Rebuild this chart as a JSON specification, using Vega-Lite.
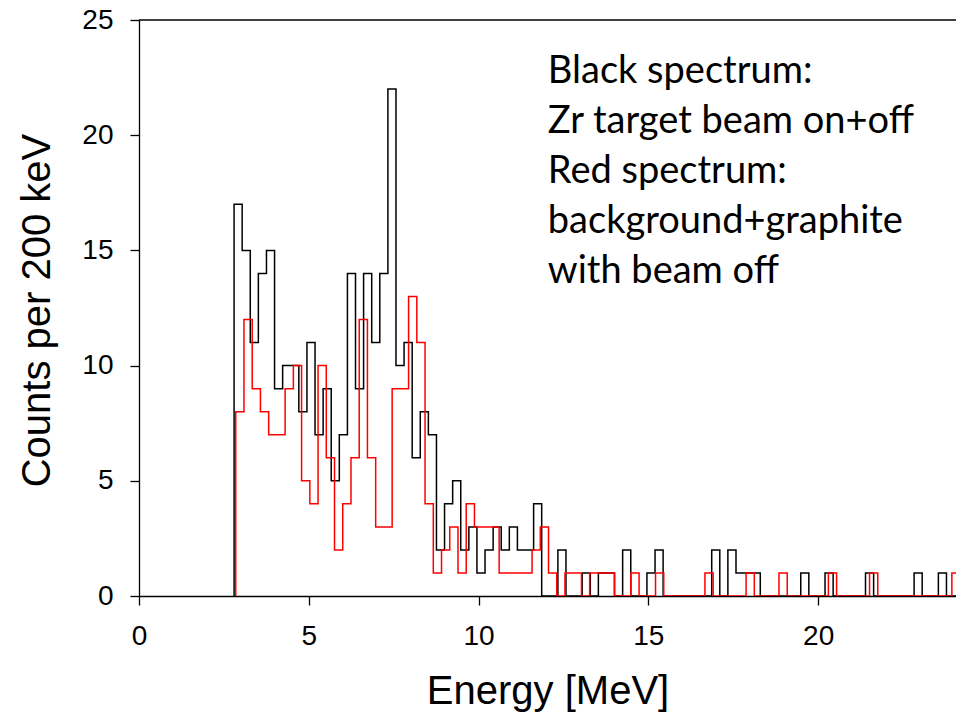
{
  "$schema": "https://vega.github.io/schema/vega-lite/v6.json",
  "width": 817,
  "height": 576,
  "autosize": {"type": "none"},
  "padding": {"left": 139, "top": 20, "right": 0, "bottom": 131},
  "background": "white",
  "config": {"view": {"stroke": null}, "font": "Liberation Sans"},
  "datasets": {
    "spectra": [
      {"s": "black", "i": -1, "e": 2.800, "c": 0},
      {"s": "black", "i": 0, "e": 2.800, "c": 17},
      {"s": "black", "i": 1, "e": 3.038, "c": 15},
      {"s": "black", "i": 2, "e": 3.277, "c": 11},
      {"s": "black", "i": 3, "e": 3.515, "c": 14},
      {"s": "black", "i": 4, "e": 3.754, "c": 15},
      {"s": "black", "i": 5, "e": 3.992, "c": 9},
      {"s": "black", "i": 6, "e": 4.230, "c": 10},
      {"s": "black", "i": 7, "e": 4.469, "c": 10},
      {"s": "black", "i": 8, "e": 4.707, "c": 8},
      {"s": "black", "i": 9, "e": 4.946, "c": 11},
      {"s": "black", "i": 10, "e": 5.184, "c": 7},
      {"s": "black", "i": 11, "e": 5.422, "c": 9},
      {"s": "black", "i": 12, "e": 5.661, "c": 5},
      {"s": "black", "i": 13, "e": 5.899, "c": 7},
      {"s": "black", "i": 14, "e": 6.138, "c": 14},
      {"s": "black", "i": 15, "e": 6.376, "c": 9},
      {"s": "black", "i": 16, "e": 6.614, "c": 14},
      {"s": "black", "i": 17, "e": 6.853, "c": 11},
      {"s": "black", "i": 18, "e": 7.091, "c": 14},
      {"s": "black", "i": 19, "e": 7.330, "c": 22},
      {"s": "black", "i": 20, "e": 7.568, "c": 10},
      {"s": "black", "i": 21, "e": 7.806, "c": 11},
      {"s": "black", "i": 22, "e": 8.045, "c": 6},
      {"s": "black", "i": 23, "e": 8.283, "c": 8},
      {"s": "black", "i": 24, "e": 8.522, "c": 7},
      {"s": "black", "i": 25, "e": 8.760, "c": 2},
      {"s": "black", "i": 26, "e": 8.998, "c": 4},
      {"s": "black", "i": 27, "e": 9.237, "c": 5},
      {"s": "black", "i": 28, "e": 9.475, "c": 2},
      {"s": "black", "i": 29, "e": 9.714, "c": 3},
      {"s": "black", "i": 30, "e": 9.952, "c": 1},
      {"s": "black", "i": 31, "e": 10.190, "c": 2},
      {"s": "black", "i": 32, "e": 10.429, "c": 3},
      {"s": "black", "i": 33, "e": 10.667, "c": 2},
      {"s": "black", "i": 34, "e": 10.906, "c": 3},
      {"s": "black", "i": 35, "e": 11.144, "c": 2},
      {"s": "black", "i": 36, "e": 11.382, "c": 2},
      {"s": "black", "i": 37, "e": 11.621, "c": 4},
      {"s": "black", "i": 38, "e": 11.859, "c": 0},
      {"s": "black", "i": 39, "e": 12.098, "c": 0},
      {"s": "black", "i": 40, "e": 12.336, "c": 2},
      {"s": "black", "i": 41, "e": 12.574, "c": 0},
      {"s": "black", "i": 42, "e": 12.813, "c": 0},
      {"s": "black", "i": 43, "e": 13.051, "c": 1},
      {"s": "black", "i": 44, "e": 13.290, "c": 0},
      {"s": "black", "i": 45, "e": 13.528, "c": 1},
      {"s": "black", "i": 46, "e": 13.766, "c": 1},
      {"s": "black", "i": 47, "e": 14.005, "c": 0},
      {"s": "black", "i": 48, "e": 14.243, "c": 2},
      {"s": "black", "i": 49, "e": 14.482, "c": 0},
      {"s": "black", "i": 50, "e": 14.720, "c": 0},
      {"s": "black", "i": 51, "e": 14.958, "c": 1},
      {"s": "black", "i": 52, "e": 15.197, "c": 2},
      {"s": "black", "i": 53, "e": 15.435, "c": 0},
      {"s": "black", "i": 54, "e": 15.674, "c": 0},
      {"s": "black", "i": 55, "e": 15.912, "c": 0},
      {"s": "black", "i": 56, "e": 16.150, "c": 0},
      {"s": "black", "i": 57, "e": 16.389, "c": 0},
      {"s": "black", "i": 58, "e": 16.627, "c": 0},
      {"s": "black", "i": 59, "e": 16.866, "c": 2},
      {"s": "black", "i": 60, "e": 17.104, "c": 0},
      {"s": "black", "i": 61, "e": 17.342, "c": 2},
      {"s": "black", "i": 62, "e": 17.581, "c": 1},
      {"s": "black", "i": 63, "e": 17.819, "c": 1},
      {"s": "black", "i": 64, "e": 18.058, "c": 1},
      {"s": "black", "i": 65, "e": 18.296, "c": 0},
      {"s": "black", "i": 66, "e": 18.534, "c": 0},
      {"s": "black", "i": 67, "e": 18.773, "c": 0},
      {"s": "black", "i": 68, "e": 19.011, "c": 0},
      {"s": "black", "i": 69, "e": 19.250, "c": 0},
      {"s": "black", "i": 70, "e": 19.488, "c": 1},
      {"s": "black", "i": 71, "e": 19.726, "c": 0},
      {"s": "black", "i": 72, "e": 19.965, "c": 0},
      {"s": "black", "i": 73, "e": 20.203, "c": 1},
      {"s": "black", "i": 74, "e": 20.442, "c": 0},
      {"s": "black", "i": 75, "e": 20.680, "c": 0},
      {"s": "black", "i": 76, "e": 20.918, "c": 0},
      {"s": "black", "i": 77, "e": 21.157, "c": 0},
      {"s": "black", "i": 78, "e": 21.395, "c": 1},
      {"s": "black", "i": 79, "e": 21.634, "c": 0},
      {"s": "black", "i": 80, "e": 21.872, "c": 0},
      {"s": "black", "i": 81, "e": 22.110, "c": 0},
      {"s": "black", "i": 82, "e": 22.349, "c": 0},
      {"s": "black", "i": 83, "e": 22.587, "c": 0},
      {"s": "black", "i": 84, "e": 22.826, "c": 1},
      {"s": "black", "i": 85, "e": 23.064, "c": 0},
      {"s": "black", "i": 86, "e": 23.302, "c": 0},
      {"s": "black", "i": 87, "e": 23.541, "c": 1},
      {"s": "black", "i": 88, "e": 23.779, "c": 0},
      {"s": "black", "i": 89, "e": 24.018, "c": 0},
      {"s": "black", "i": 90, "e": 24.256, "c": 0},
      {"s": "red", "i": -1, "e": 2.849, "c": 0},
      {"s": "red", "i": 0, "e": 2.849, "c": 8},
      {"s": "red", "i": 1, "e": 3.091, "c": 12},
      {"s": "red", "i": 2, "e": 3.334, "c": 9},
      {"s": "red", "i": 3, "e": 3.576, "c": 8},
      {"s": "red", "i": 4, "e": 3.819, "c": 7},
      {"s": "red", "i": 5, "e": 4.061, "c": 7},
      {"s": "red", "i": 6, "e": 4.303, "c": 9},
      {"s": "red", "i": 7, "e": 4.546, "c": 10},
      {"s": "red", "i": 8, "e": 4.788, "c": 5},
      {"s": "red", "i": 9, "e": 5.031, "c": 4},
      {"s": "red", "i": 10, "e": 5.273, "c": 10},
      {"s": "red", "i": 11, "e": 5.515, "c": 6},
      {"s": "red", "i": 12, "e": 5.758, "c": 2},
      {"s": "red", "i": 13, "e": 6.000, "c": 4},
      {"s": "red", "i": 14, "e": 6.243, "c": 6},
      {"s": "red", "i": 15, "e": 6.485, "c": 12},
      {"s": "red", "i": 16, "e": 6.727, "c": 6},
      {"s": "red", "i": 17, "e": 6.970, "c": 3},
      {"s": "red", "i": 18, "e": 7.212, "c": 3},
      {"s": "red", "i": 19, "e": 7.455, "c": 9},
      {"s": "red", "i": 20, "e": 7.697, "c": 9},
      {"s": "red", "i": 21, "e": 7.939, "c": 13},
      {"s": "red", "i": 22, "e": 8.182, "c": 11},
      {"s": "red", "i": 23, "e": 8.424, "c": 4},
      {"s": "red", "i": 24, "e": 8.667, "c": 1},
      {"s": "red", "i": 25, "e": 8.909, "c": 2},
      {"s": "red", "i": 26, "e": 9.151, "c": 3},
      {"s": "red", "i": 27, "e": 9.394, "c": 1},
      {"s": "red", "i": 28, "e": 9.636, "c": 4},
      {"s": "red", "i": 29, "e": 9.879, "c": 3},
      {"s": "red", "i": 30, "e": 10.121, "c": 3},
      {"s": "red", "i": 31, "e": 10.363, "c": 3},
      {"s": "red", "i": 32, "e": 10.606, "c": 1},
      {"s": "red", "i": 33, "e": 10.848, "c": 1},
      {"s": "red", "i": 34, "e": 11.091, "c": 1},
      {"s": "red", "i": 35, "e": 11.333, "c": 1},
      {"s": "red", "i": 36, "e": 11.575, "c": 2},
      {"s": "red", "i": 37, "e": 11.818, "c": 3},
      {"s": "red", "i": 38, "e": 12.060, "c": 1},
      {"s": "red", "i": 39, "e": 12.303, "c": 0},
      {"s": "red", "i": 40, "e": 12.545, "c": 1},
      {"s": "red", "i": 41, "e": 12.787, "c": 1},
      {"s": "red", "i": 42, "e": 13.030, "c": 0},
      {"s": "red", "i": 43, "e": 13.272, "c": 1},
      {"s": "red", "i": 44, "e": 13.515, "c": 1},
      {"s": "red", "i": 45, "e": 13.757, "c": 1},
      {"s": "red", "i": 46, "e": 13.999, "c": 0},
      {"s": "red", "i": 47, "e": 14.242, "c": 0},
      {"s": "red", "i": 48, "e": 14.484, "c": 1},
      {"s": "red", "i": 49, "e": 14.727, "c": 0},
      {"s": "red", "i": 50, "e": 14.969, "c": 0},
      {"s": "red", "i": 51, "e": 15.211, "c": 1},
      {"s": "red", "i": 52, "e": 15.454, "c": 0},
      {"s": "red", "i": 53, "e": 15.696, "c": 0},
      {"s": "red", "i": 54, "e": 15.939, "c": 0},
      {"s": "red", "i": 55, "e": 16.181, "c": 0},
      {"s": "red", "i": 56, "e": 16.423, "c": 0},
      {"s": "red", "i": 57, "e": 16.666, "c": 1},
      {"s": "red", "i": 58, "e": 16.908, "c": 0},
      {"s": "red", "i": 59, "e": 17.151, "c": 0},
      {"s": "red", "i": 60, "e": 17.393, "c": 0},
      {"s": "red", "i": 61, "e": 17.635, "c": 0},
      {"s": "red", "i": 62, "e": 17.878, "c": 1},
      {"s": "red", "i": 63, "e": 18.120, "c": 0},
      {"s": "red", "i": 64, "e": 18.363, "c": 0},
      {"s": "red", "i": 65, "e": 18.605, "c": 0},
      {"s": "red", "i": 66, "e": 18.847, "c": 1},
      {"s": "red", "i": 67, "e": 19.090, "c": 0},
      {"s": "red", "i": 68, "e": 19.332, "c": 0},
      {"s": "red", "i": 69, "e": 19.575, "c": 0},
      {"s": "red", "i": 70, "e": 19.817, "c": 0},
      {"s": "red", "i": 71, "e": 20.059, "c": 0},
      {"s": "red", "i": 72, "e": 20.302, "c": 1},
      {"s": "red", "i": 73, "e": 20.544, "c": 0},
      {"s": "red", "i": 74, "e": 20.787, "c": 0},
      {"s": "red", "i": 75, "e": 21.029, "c": 0},
      {"s": "red", "i": 76, "e": 21.271, "c": 0},
      {"s": "red", "i": 77, "e": 21.514, "c": 1},
      {"s": "red", "i": 78, "e": 21.756, "c": 0},
      {"s": "red", "i": 79, "e": 21.999, "c": 0},
      {"s": "red", "i": 80, "e": 22.241, "c": 0},
      {"s": "red", "i": 81, "e": 22.483, "c": 0},
      {"s": "red", "i": 82, "e": 22.726, "c": 0},
      {"s": "red", "i": 83, "e": 22.968, "c": 0},
      {"s": "red", "i": 84, "e": 23.211, "c": 0},
      {"s": "red", "i": 85, "e": 23.453, "c": 0},
      {"s": "red", "i": 86, "e": 23.695, "c": 0},
      {"s": "red", "i": 87, "e": 23.938, "c": 1},
      {"s": "red", "i": 88, "e": 24.180, "c": 0}
    ]
  },
  "layer": [
    {
      "data": {"name": "spectra"},
      "mark": {"type": "line", "interpolate": "step-after", "strokeWidth": 1.5, "clip": true},
      "encoding": {
        "x": {
          "field": "e",
          "type": "quantitative",
          "scale": {"domain": [0, 24.06], "nice": false, "zero": false},
          "axis": {
            "values": [0, 5, 10, 15, 20],
            "title": "Energy [MeV]",
            "titleFont": "Liberation Sans",
            "titleFontSize": 40,
            "titleFontWeight": "normal",
            "titleColor": "black",
            "titleBaseline": "alphabetic",
            "titleY": 107,
            "labelFont": "Liberation Sans",
            "labelFontSize": 28,
            "labelColor": "black",
            "labelPadding": 17,
            "labelFlush": false,
            "tickSize": 9,
            "tickColor": "black",
            "tickWidth": 1.3,
            "domainColor": "black",
            "domainWidth": 1.3,
            "grid": false
          }
        },
        "y": {
          "field": "c",
          "type": "quantitative",
          "scale": {"domain": [0, 25], "nice": false},
          "axis": {
            "values": [0, 5, 10, 15, 20, 25],
            "title": "Counts per 200 keV",
            "titleFont": "Liberation Sans",
            "titleFontSize": 40,
            "titleFontWeight": "normal",
            "titleColor": "black",
            "titleAngle": 270,
            "titleBaseline": "alphabetic",
            "titleAlign": "center",
            "titleX": -90,
            "titleY": 290,
            "labelFont": "Liberation Sans",
            "labelFontSize": 28,
            "labelColor": "black",
            "labelPadding": 17,
            "labelFlush": false,
            "tickSize": 9,
            "tickColor": "black",
            "tickWidth": 1.3,
            "domainColor": "black",
            "domainWidth": 1.3,
            "grid": false
          }
        },
        "color": {
          "field": "s",
          "type": "nominal",
          "scale": {"domain": ["black", "red"], "range": ["#000000", "#ff0000"]},
          "legend": null
        },
        "order": {"field": "i", "type": "quantitative"}
      }
    },
    {
      "data": {"values": [{}]},
      "mark": {"type": "rule", "color": "black", "strokeWidth": 1.3},
      "encoding": {"y": {"datum": 25}}
    },
    {
      "data": {"values": [{}]},
      "mark": {
        "type": "text",
        "align": "left",
        "baseline": "alphabetic",
        "font": "Lato",
        "fontSize": 38,
        "lineHeight": 50,
        "color": "black",
        "text": ["Black spectrum:", "Zr target beam on+off", "Red spectrum:", "background+graphite", "with beam off"]
      },
      "encoding": {"x": {"datum": 12.04}, "y": {"datum": 22.28}}
    }
  ]
}
